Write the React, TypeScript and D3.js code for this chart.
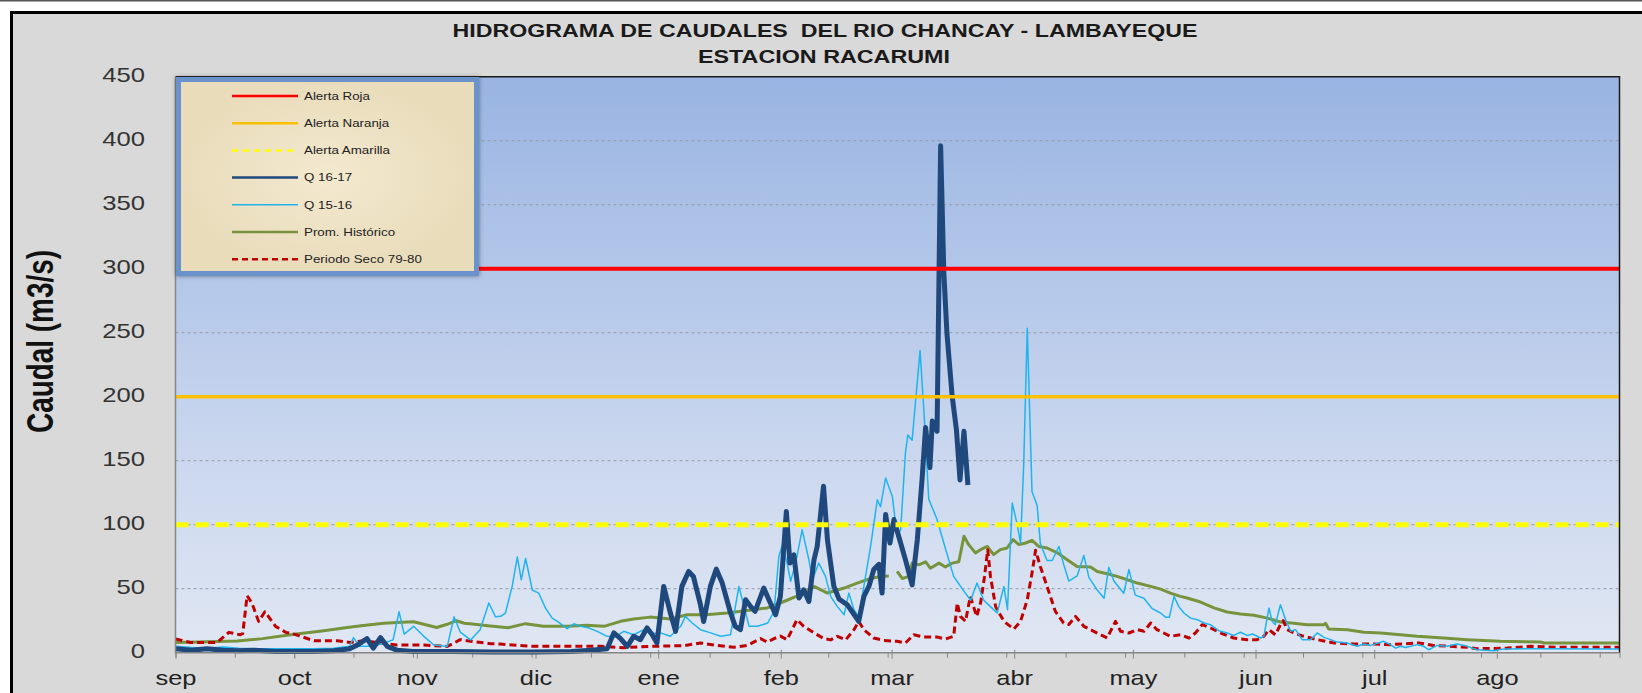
import React, { useEffect, useRef } from 'react';
import * as d3 from 'd3';

// --- data (day offsets counted from 1 Sep 2016) ---
const monthLabels = ['sep', 'oct', 'nov', 'dic', 'ene', 'feb', 'mar', 'abr', 'may', 'jun', 'jul', 'ago'];
const yTicks = [0, 50, 100, 150, 200, 250, 300, 350, 400, 450];

const alertaRoja = 300;
const alertaNaranja = 200;
const alertaAmarilla = 100;

const q1617Days = [0, 4, 8, 12, 16, 20, 25, 30, 35, 40, 44, 46, 48.4, 50, 51.8, 53.5, 56, 60, 70, 80, 90, 100, 105, 109.1,
  110.8, 112.5, 114.2, 115.8, 117.5, 119.2, 120.5, 121.7, 123.4, 125.1, 126.4, 128, 129.7, 130.9, 132.7, 133.5, 135.2,
  136.7, 138.2, 140.3, 141.5, 142.8, 144.1, 145.4, 146.5, 148.7, 150, 151.7, 152.9, 154.4, 155.3, 156.3, 157.6, 158.8,
  160.1, 161.4, 162.2, 163.8, 164.8, 165.6, 166.4, 167.7, 169.8, 172.7, 174, 175.3, 176.5, 177.8, 178.6, 179.5, 180.6,
  181.6, 182.8, 184.5, 186.2, 187.5, 188.7, 189.6, 190.7, 191.3, 192.5, 193.4, 194.2, 195, 196.3, 197.4, 198.3, 199.3, 200.3];
const q1617Vals = [3, 2, 3, 2, 1.5, 2, 1, 1, 1, 1.5, 3, 6, 11, 3.6, 11.8, 5, 2, 1, 1, 0.5, 0.5, 1, 2, 3,
  15.5, 11, 5, 12.8, 10.2, 19.3, 14, 7.6, 51.8, 31, 16.7, 51.8, 63.5, 59.6, 37.5, 24.4, 51.8,
  65.3, 54.4, 31, 20.6, 18, 41.4, 36, 32.3, 50.5, 41.4, 29.7, 44, 110.4, 70, 76.5, 42.7, 49,
  40, 72.6, 83, 130, 88, 70, 52, 42, 37.5, 24.5, 44, 52, 65, 69, 46.6, 108, 85.7,
  104, 91, 72.7, 53, 88, 135, 176, 144.6, 181, 173, 396, 298, 249.5, 201, 174, 135, 173, 131];

const q1516Days = [0, 4, 8, 12, 16, 20, 25, 30, 35, 40, 44, 45, 46.5, 50, 52.7, 55, 56.5, 57.8, 60.2, 62.7, 65.3, 68.7,
  70.4, 72, 74.6, 77, 79.2, 80.9, 82.2, 83.4, 85.1, 86.4, 87.4, 88.5, 90.2, 91.8, 93.5, 95.2, 96.9, 99, 100.7, 102.4,
  104.5, 106.6, 109.1, 111.2, 113.3, 115.8, 118.4, 120.5, 122.6, 125.1, 127.7, 128.9, 130.6, 132.7, 135.3, 137.8, 140.3,
  142.4, 143.7, 145, 147.1, 149.7, 151.3, 152.5, 153.4, 154.6, 155.5, 156.8, 158.4, 160.1, 161, 162.6, 164.3, 165.6,
  167.3, 169, 170.2, 171.5, 172.7, 174, 175.7, 177.4, 178.2, 179.5, 181.2, 182.4, 183.3, 184.5, 185.1, 186.2, 188.2,
  189.2, 190.4, 192.5, 194.2, 196.7, 199.3, 201, 202.6, 204.3, 206, 207.7, 209.4, 210.3, 211.5, 212.7, 213.6, 214.4,
  215.3, 216.5, 217.8, 218.6, 220.3, 221.6, 223.3, 224.5, 225.8, 227.9, 229.6, 230.9, 233, 234.7, 235.9, 237.2, 239.7,
  241, 242.6, 244.8, 246.9, 249, 250.3, 251.2, 252.4, 253.6, 254.9, 256.6, 258.3, 260, 261.6, 263.7, 265.8, 267.5,
  269.2, 270.9, 272.2, 274.3, 275.1, 276.4, 277.2, 278, 279.3, 280.6, 281.9, 283.1, 284.8, 286.9, 288.6, 290.3, 292,
  293.6, 296.2, 298.7, 300.4, 302.1, 305.4, 307.1, 308.4, 309.7, 311, 313.8, 315.5, 316.8, 318.9, 321.4, 323.9, 326,
  329, 333.2, 335.7, 345, 365];
const q1516Vals = [5, 4, 3.5, 4.5, 3.5, 3, 3, 3, 3, 3.5, 5, 11.8, 5, 5, 7.6, 10, 32, 14.5, 20.6, 13, 6, 4.9,
  28, 16, 10, 18, 38.8, 28, 28.4, 31, 51.8, 74.7, 57, 73.6, 49, 46.6, 35, 27, 23.7, 18.8, 22.6, 20.6,
  19.3, 16.7, 12.8, 12.3, 16.7, 14, 18, 15, 15.5, 12.8, 20.6, 28.4, 23.2, 18, 15.5, 12.8, 14.1,
  51.8, 36, 20.6, 20.6, 23.2, 32.3, 75, 84.4, 70, 55.7, 71, 96, 72.6, 57, 70, 59.6, 44,
  36, 29.7, 46.6, 33.6, 28.4, 51.8, 83, 119.5, 114, 136.5, 122, 91, 96, 156, 170, 166, 236,
  187.6, 120, 104, 85.7, 59.6, 48, 41, 54.4, 41, 36, 31, 51.8, 33.6, 117, 101, 85.7, 147,
  253.5, 126, 115, 85.5, 72, 72, 83, 69, 56, 60, 76, 58.6, 49, 42.5, 66.7, 56, 46.5,
  65, 45, 42.5, 34.4, 31, 27.6, 27.6, 44, 36, 31, 27, 25.8, 23.2, 21.9, 17.2, 15.4, 13.5,
  16, 13.5, 14.6, 11.5, 12.8, 35, 24.5, 21.9, 37.5, 25.8, 16.7, 18, 10.2, 10.2, 15.4, 12, 10.2,
  8.3, 7.6, 5, 6.8, 5.7, 8.9, 6.3, 3.6, 5, 4, 6.3, 5, 2.3, 5.7, 5, 6.8, 5.5,
  2.3, 1.6, 2.9, 3.1, 2.9];

const promDays = [0, 8, 15.6, 22, 30, 37, 43.4, 48, 52.7, 56, 60.2, 63, 66, 68.5, 71, 73, 75, 79, 84, 88.5, 93, 99, 104,
  108.3, 112.5, 115.8, 120, 125.1, 129.3, 134, 139.4, 144.5, 149.6, 153.8, 158, 161.4, 164.8, 169, 172.3, 175.7, 178.2,
  180.3, 181.3, 182.4, 183.7, 185.4, 186.2, 187.9, 189.6, 190.8, 193, 194.6, 196.3, 198, 199.3, 200.5, 202.2, 203.5,
  205.2, 206.8, 208.5, 210.2, 211.7, 213.2, 214.9, 216.5, 218.2, 220.3, 222.9, 225.4, 227.9, 231.3, 233, 235.5, 238,
  240.6, 243.1, 246.5, 249, 251.5, 254, 255.7, 259.1, 262.5, 265.8, 269.2, 272.6, 276, 279.3, 282.7, 286, 290.3, 290.7,
  291.5, 296.2, 300.4, 304.6, 309.6, 313.8, 320.6, 326.5, 334.9, 345, 345.9, 365];
const promVals = [7.9, 8.5, 9.2, 11, 14.5, 17, 19.7, 21.5, 23, 23.5, 24.2, 22, 19.7, 22, 25, 23, 22.4, 21, 19.5, 22.7, 20.6,
  20.6, 21.4, 20.6, 24.5, 26.3, 27.8, 26.3, 29.7, 29.7, 31, 33, 35, 40, 45.3, 51.8, 46.6, 50.5, 54.4, 58, 59.6,
  60, null, 63.5, 58, 59.6, 70, 68.7, 71, 66, 70, 67, 70, 71, 91, 84.4, 78, 80.5,
  83, 76.6, 80.5, 81.8, 88.3, 84.4, 85.7, 87.8, 83, 81.8, 78, 72.7, 67.4, 67, 63.5, 61.7, 59.6,
  57, 54.4, 51.8, 49.7, 46.6, 44, 42.7, 39.6, 35, 31.8, 30.2, 29.2, 27, 24, 23, 21.9, 21.9, 23,
  18.5, 18, 16, 15.4, 14, 12.8, 11.5, 10.2, 8.9, 8.3, 7.6, 7.6];

const secoDays = [0, 3.8, 10.5, 13.5, 16.4, 17, 18.1, 19.3, 21, 22.6, 25.3, 27.9, 30, 35, 40.9, 44.2, 47.6, 51, 56, 62.8,
  68.7, 72, 74.6, 79.6, 82, 90, 100, 107.4, 113.3, 120, 128.5, 132.7, 136.9, 141.1, 144.5, 147.9, 149.6, 151.3, 152.9,
  154.6, 157.1, 158.8, 161.4, 163.9, 165.6, 167.3, 169.4, 171.5, 172.7, 174, 176.5, 179, 182.4, 184.5, 186.6, 189.2,
  192.5, 194.6, 196.7, 197.6, 198.4, 199.7, 200.9, 202.5, 203.5, 204.5, 205.3, 206, 207.3, 209.4, 211.9, 213.6, 215.3,
  216.5, 217.4, 218.6, 220.3, 222.4, 224.5, 225.8, 227.5, 229.6, 232.1, 235.5, 237.6, 238.9, 241, 243.1, 244.8, 246.5,
  248.1, 251.5, 254, 256.2, 257.8, 259.5, 261.6, 264.2, 267.5, 270.9, 273.4, 275.1, 276.4, 278, 279.3, 280, 281, 282.7,
  285.2, 288.6, 292.8, 297.9, 302.9, 307.1, 314.3, 318, 326.5, 329, 336.6, 342.5, 349.2, 365];
const secoVals = [10.7, 8, 8, 15.9, 14, 15, 44.5, 39, 24.5, 32, 20.6, 15.9, 14.5, 9.3, 9.3, 8, 9.3, 8, 6, 6,
  4.9, 10.2, 9, 7, 6.8, 5, 5, 5, 3.9, 5, 5.5, 7.6, 5.7, 4.3, 5.7, 11, 8.3, 11, 13,
  10.2, 25.8, 20.6, 15.5, 11, 10, 12.8, 10, 18, 24.5, 18, 11.5, 9.6, 8.9, 7.6, 14, 12.2,
  12.2, 10.7, 12.8, 38.8, 28.4, 24.5, 44, 28.4, 38.8, 59.6, 80.5, 59.6, 36, 24.5, 18.5, 24.5, 41.4,
  62.2, 80, 67.4, 51.8, 32.3, 23.2, 22, 28.4, 20.6, 16.7, 11.5, 24.5, 16.7, 15.4, 18, 16.7, 23.2,
  18, 12.8, 14, 11.5, 15.4, 21.9, 19.3, 15.4, 11.5, 10.2, 10.2, 12.8, 18, 14, 21.9, 25, 18, 15.4,
  12.8, 10.2, 7.6, 6.8, 6.8, 6.3, 7.6, 5.7, 4.2, 3.1, 3.6, 5, 4.2, 4.2];

const legendItems = [
  { label: 'Alerta Roja', color: '#ff0000', width: 2.5, dash: null },
  { label: 'Alerta Naranja', color: '#ffc000', width: 2.5, dash: null },
  { label: 'Alerta Amarilla', color: '#ffff00', width: 2.5, dash: '6,5' },
  { label: 'Q 16-17', color: '#1f497d', width: 2.5, dash: null },
  { label: 'Q 15-16', color: '#1fb4ee', width: 1.5, dash: null },
  { label: 'Prom. Histórico', color: '#77933c', width: 2.5, dash: null },
  { label: 'Periodo Seco 79-80', color: '#c00000', width: 2.5, dash: '6,4' },
];

// widen text horizontally (the original picture is stretched sideways)
function stretch(sel: any, k: number) {
  sel.each(function (this: SVGTextElement) {
    const len = this.getComputedTextLength();
    d3.select(this).attr('textLength', len * k).attr('lengthAdjust', 'spacingAndGlyphs');
  });
}

const Chart: React.FC = () => {
  const ref = useRef<SVGSVGElement | null>(null);

  useEffect(() => {
    if (!ref.current) return;
    const width = 1642;
    const height = 693;
    const left = 175.5, right = 1619.5, top = 76.7, bottom = 652.7;

    const svg = d3.select(ref.current);
    svg.selectAll('*').remove();
    svg.attr('width', width).attr('height', height);

    const start = new Date(Date.UTC(2016, 8, 1));
    const end = new Date(Date.UTC(2017, 8, 1));
    const totalDays = d3.utcDay.count(start, end);
    const monthStarts = d3.utcMonth.range(start, end).map(d => d3.utcDay.count(start, d));

    const x = d3.scaleLinear().domain([0, totalDays]).range([left, right]);
    const y = d3.scaleLinear().domain([0, 450]).range([bottom, top]);

    const defs = svg.append('defs');
    const grad = defs.append('linearGradient').attr('id', 'plotBg').attr('x1', 0).attr('y1', 0).attr('x2', 0).attr('y2', 1);
    grad.append('stop').attr('offset', '0%').attr('stop-color', '#99b4e2');
    grad.append('stop').attr('offset', '55%').attr('stop-color', '#c3d2ed');
    grad.append('stop').attr('offset', '100%').attr('stop-color', '#e0e7f3');
    const lg = defs.append('radialGradient').attr('id', 'legBg');
    lg.append('stop').attr('offset', '0%').attr('stop-color', '#f3e9cf');
    lg.append('stop').attr('offset', '100%').attr('stop-color', '#e9dcbb');
    const sh = defs.append('filter').attr('id', 'shadow').attr('x', '-10%').attr('y', '-10%').attr('width', '120%').attr('height', '120%');
    sh.append('feDropShadow').attr('dx', 0).attr('dy', 0).attr('stdDeviation', 2).attr('flood-color', '#333').attr('flood-opacity', 0.6);

    // page & chart frame
    svg.append('rect').attr('width', width).attr('height', height).attr('fill', '#fff');
    svg.append('line').attr('x1', 0).attr('x2', width).attr('y1', 0.75).attr('y2', 0.75).attr('stroke', '#555').attr('stroke-width', 1.5);
    svg.append('rect').attr('x', 11.5).attr('y', 12.5).attr('width', 1700).attr('height', 800)
      .attr('fill', '#d9d9d9').attr('stroke', '#000').attr('stroke-width', 3);

    // title
    const title = svg.append('g').attr('font-family', '"Liberation Sans", Arial, sans-serif')
      .attr('font-weight', 'bold').attr('font-size', 18.5).attr('fill', '#1a1a1a').attr('text-anchor', 'middle');
    title.append('text').attr('x', 825).attr('y', 36.7).attr('textLength', 745).attr('lengthAdjust', 'spacingAndGlyphs')
      .text('HIDROGRAMA DE CAUDALES \u00a0DEL RIO CHANCAY - LAMBAYEQUE');
    title.append('text').attr('x', 824).attr('y', 63.3).attr('textLength', 252).attr('lengthAdjust', 'spacingAndGlyphs')
      .text('ESTACION RACARUMI');

    // plot area
    svg.append('rect').attr('x', left).attr('y', top).attr('width', right - left).attr('height', bottom - top)
      .attr('fill', 'url(#plotBg)');

    // gridlines
    svg.append('g').selectAll('line').data(yTicks.filter(t => t > 0 && t < 450)).enter().append('line')
      .attr('x1', left).attr('x2', right).attr('y1', d => y(d)).attr('y2', d => y(d))
      .attr('stroke', '#959aa3').attr('stroke-width', 1).attr('stroke-dasharray', '3,3');

    // y axis labels
    const yAxis = svg.append('g').attr('transform', `translate(${left},0)`)
      .call(d3.axisLeft(y).tickValues(yTicks).tickSize(0).tickPadding(30.5));
    yAxis.select('.domain').remove();
    yAxis.selectAll('text').attr('font-family', '"Liberation Sans", Arial, sans-serif').attr('font-size', 21)
      .attr('fill', '#333').attr('dy', '0.24em');
    stretch(yAxis.selectAll('text'), 1.22);

    // y axis title
    svg.append('text')
      .attr('transform', 'translate(52.5,341.5) rotate(-90) scale(1,1.3)')
      .attr('text-anchor', 'middle').attr('font-family', '"Liberation Sans", Arial, sans-serif')
      .attr('font-weight', 'bold').attr('font-size', 28).attr('fill', '#111')
      .attr('textLength', 183).attr('lengthAdjust', 'spacingAndGlyphs')
      .text('Caudal (m3/s)');

    // x axis: 15-day ticks + month ticks with labels
    const minor = svg.append('g').attr('transform', `translate(0,${bottom})`)
      .call(d3.axisBottom(x).tickValues(d3.range(0, totalDays + 1, 15).concat([totalDays])).tickSize(5).tickFormat(() => ''));
    minor.select('.domain').remove();
    minor.selectAll('line').attr('stroke', '#868686');
    const major = svg.append('g').attr('transform', `translate(0,${bottom})`)
      .call(d3.axisBottom(x).tickValues(monthStarts).tickSize(6).tickPadding(15)
        .tickFormat((d, i) => monthLabels[i]));
    major.select('.domain').remove();
    major.selectAll('line').attr('y1', -3).attr('stroke', '#868686');
    major.selectAll('text').attr('font-family', '"Liberation Sans", Arial, sans-serif').attr('font-size', 21)
      .attr('fill', '#222').attr('dy', '0.55em');
    stretch(major.selectAll('text'), 1.21);

    // series
    const toPts = (days: number[], vals: (number | null)[]) => days.map((d, i) => [d, vals[i]] as [number, number | null]);
    const line = d3.line<[number, number | null]>()
      .defined(d => d[1] !== null)
      .x(d => x(d[0]))
      .y(d => y(d[1] as number));

    const series = [
      { pts: toPts(promDays, promVals), color: '#77933c', w: 3, dash: null },
      { pts: toPts(secoDays, secoVals), color: '#c00000', w: 3, dash: '7,4' },
      { pts: toPts(q1516Days, q1516Vals), color: '#1fb4ee', w: 1.5, dash: null },
      { pts: toPts(q1617Days, q1617Vals), color: '#1f497d', w: 5, dash: null },
    ];
    svg.append('g').selectAll('path').data(series).enter().append('path')
      .attr('d', d => line(d.pts))
      .attr('fill', 'none')
      .attr('stroke', d => d.color)
      .attr('stroke-width', d => d.w)
      .attr('stroke-dasharray', d => d.dash)
      .attr('stroke-linejoin', 'round');

    // alert lines
    const alerts = [
      { v: alertaRoja, color: '#ff0000', w: 4, dash: null },
      { v: alertaNaranja, color: '#ffc000', w: 3.5, dash: null },
      { v: alertaAmarilla, color: '#ffff00', w: 5, dash: '13,7' },
    ];
    svg.append('g').selectAll('line').data(alerts).enter().append('line')
      .attr('x1', left).attr('x2', right).attr('y1', d => y(d.v)).attr('y2', d => y(d.v))
      .attr('stroke', d => d.color).attr('stroke-width', d => d.w).attr('stroke-dasharray', d => d.dash);

    // plot border
    svg.append('path').attr('d', `M${left},${top}H${right}V${bottom}`).attr('fill', 'none')
      .attr('stroke', '#1a1a1a').attr('stroke-width', 1.5);
    svg.append('path').attr('d', `M${left},${top}V${bottom}H${right}`).attr('fill', 'none')
      .attr('stroke', '#868686').attr('stroke-width', 1.5);

    // legend
    const leg = svg.append('g');
    leg.append('rect').attr('x', 178.5).attr('y', 79.5).attr('width', 298).attr('height', 194)
      .attr('fill', 'url(#legBg)').attr('stroke', '#6b93cb').attr('stroke-width', 5).attr('filter', 'url(#shadow)');
    const rows = leg.selectAll('g.item').data(legendItems).enter().append('g').attr('class', 'item')
      .attr('transform', (d, i) => `translate(0,${96 + i * 27.2})`);
    rows.append('line').attr('x1', 232).attr('x2', 298).attr('y1', 0).attr('y2', 0)
      .attr('stroke', d => d.color).attr('stroke-width', d => d.width).attr('stroke-dasharray', d => d.dash);
    const lt = rows.append('text').attr('x', 304).attr('y', 3.8).attr('font-family', '"Liberation Sans", Arial, sans-serif')
      .attr('font-size', 10.5).attr('fill', '#222').text(d => d.label);
    stretch(lt, 1.27);
  }, []);

  return <svg ref={ref} style={{ position: 'absolute', left: 0, top: 0, display: 'block' }} />;
};

export default function App() {
  return <Chart />;
}
